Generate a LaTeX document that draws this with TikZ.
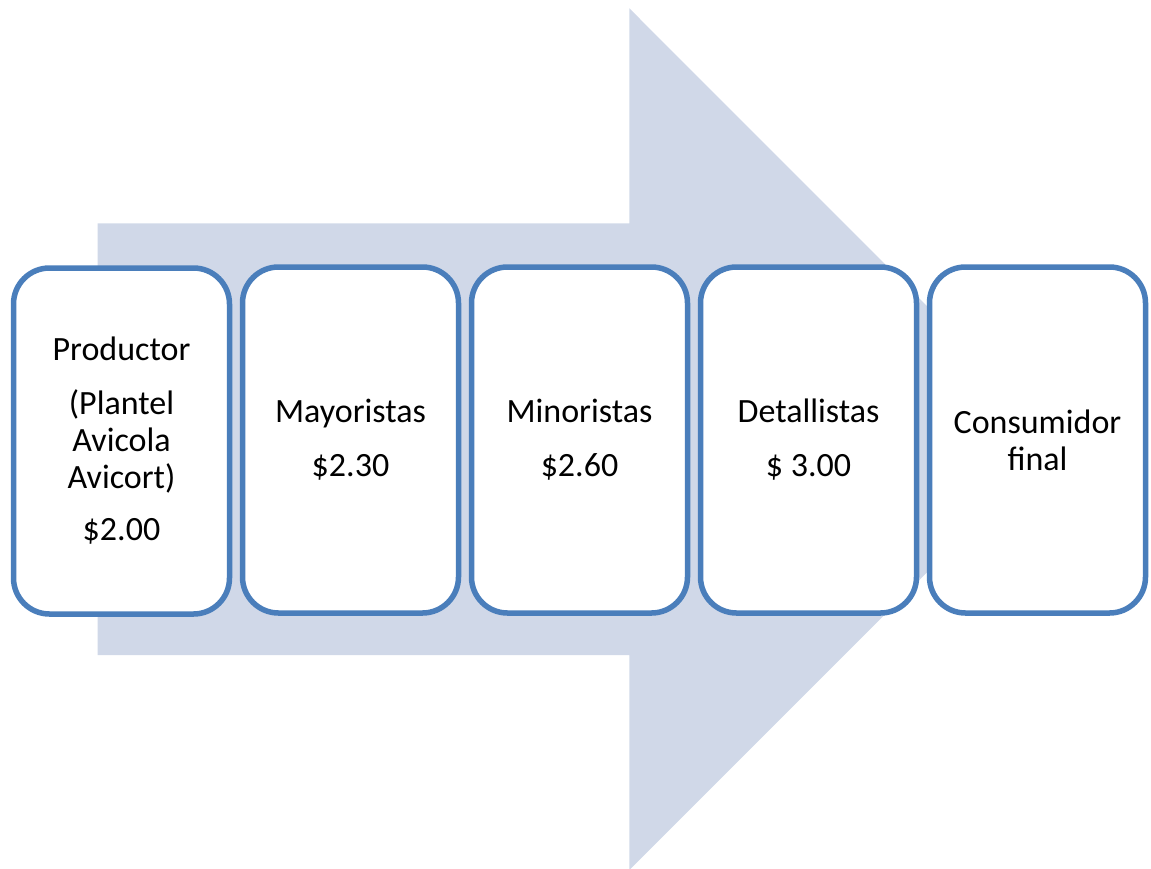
\documentclass[tikz,border=0pt]{standalone}
\usepackage{fontspec}
\setmainfont{Carlito}
\definecolor{arrowfill}{RGB}{208,216,232}
\definecolor{boxline}{RGB}{74,126,187}
\begin{document}
\begin{tikzpicture}[x=1pt,y=-1pt,
  stage/.style={draw=boxline, line width=5.5pt, fill=white, rounded corners=36pt,
    minimum width=216pt, minimum height=346pt, inner sep=0pt, align=center,
    font=\fontsize{34}{37}\selectfont}]
\useasboundingbox (0,0) rectangle (1151,868);
% broad block arrow behind the stages
\begin{scope}
\clip (0,0) rectangle (1151,868);
\fill[arrowfill] (97.7,223.3) -- (629.3,223.3) -- (629.3,8.3) -- (1060,439.2)
  -- (629.3,870) -- (629.3,655) -- (97.7,655) -- cycle;
\end{scope}
% stages of the distribution chain
\node[stage] (prod) at (121.5,441) {Productor\\[17pt](Plantel\\Avicola\\Avicort)\\[15pt]\$2.00};
\node[stage] (mayo) at (350.5,440) {Mayoristas\\[17pt]\$2.30};
\node[stage] (mino) at (579.5,440) {Minoristas\\[17pt]\$2.60};
\node[stage] (deta) at (808.5,440) {Detallistas\\[17pt]\$ 3.00};
\node[stage] (cons) at (1037.5,440) {Consumidor\\final};
\end{tikzpicture}
\end{document}
